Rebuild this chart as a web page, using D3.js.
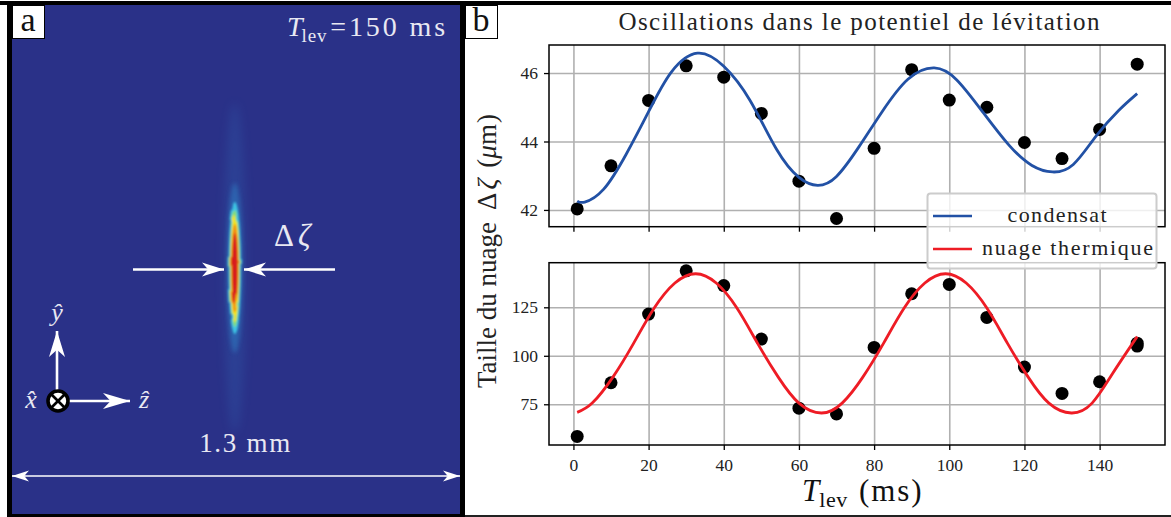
<!DOCTYPE html>
<html><head><meta charset="utf-8">
<script src="https://cdn.jsdelivr.net/npm/d3@7"></script>
<style>html,body{margin:0;padding:0;background:#fff;overflow:hidden}svg{display:block}
text{font-family:"Liberation Serif",serif}</style></head><body>
<script>
const pointTimes=[1,10,20,30,40,50,60,70,80,90,100,110,120,130,140,150];
const condensatValues=[42.03,43.29,45.2,46.21,45.88,44.82,42.84,41.75,43.8,46.1,45.21,45.0,43.97,43.5,44.35,46.26];
const thermalTimes=[1,10,20,30,40,50,60,70,80,90,100,110,120,130,140,150,150];
const thermalValues=[58.4,86.1,121.5,143.8,136.2,108.6,73,70,104.3,132,136.8,119.8,94.2,80.6,86.6,105,106.5];
const condensatFitT=[1,3,8,14,20,26,33,40,47,54,60,65,70,76,82,89,96,102,109,116,122,127.5,133,139,145,150];
const condensatFitV=[42.26,42.23,42.6,43.62,44.87,46.02,46.58,46.2,45.2,43.78,42.95,42.72,42.98,43.85,44.85,45.82,46.15,45.8,44.85,43.88,43.3,43.11,43.33,44.15,44.9,45.4];
const thermalFitT=[1,5,10.5,16,21.5,27,32.5,38,43.5,49,54.5,60,66,71.5,77,82.5,88,93.5,99,104.5,110,115.5,121,126.5,132.5,138,143.5,150];
const thermalFitV=[70.8,75.6,89,106.4,124.6,137.5,142.3,137.5,124.6,106.4,89,75.6,70.5,75.6,89,106.4,124.6,137.5,142.3,137.5,124.6,106.4,89,75.6,70.5,75.6,91,109.9];
const xTicks=[0,20,40,60,80,100,120,140];
const topTicks=[42,44,46];
const bottomTicks=[75,100,125];
const legendLabels=["condensat","nuage thermique"];

const W=1171,H=517,BLUE="#2a3188",FITB="#2251a5",FITR="#ee1c25",GRID="#b0b0b0";
const svg=d3.select("body").append("svg").attr("width",W).attr("height",H);
const defs=svg.append("defs");
[["b1",5],["b2",2]].forEach(([id,s])=>{
  defs.append("filter").attr("id",id).attr("x","-200%").attr("width","500%").attr("y","-50%").attr("height","200%")
    .append("feGaussianBlur").attr("stdDeviation",s);
});
const rough=defs.append("filter").attr("id","rough").attr("filterUnits","userSpaceOnUse").attr("x",150).attr("y",100).attr("width",170).attr("height",340);
rough.append("feTurbulence").attr("type","fractalNoise").attr("baseFrequency","0.05 0.06").attr("numOctaves",2).attr("seed",4).attr("result","n");
rough.append("feDisplacementMap").attr("in","SourceGraphic").attr("in2","n").attr("scale",4).attr("xChannelSelector","R").attr("yChannelSelector","G").attr("result","d");
rough.append("feGaussianBlur").attr("in","d").attr("stdDeviation",.9);

svg.append("rect").attr("width",W).attr("height",H).attr("fill","#fff");
svg.append("rect").attr("x",0).attr("y",1).attr("width",W).attr("height",4).attr("fill","#000");
svg.append("rect").attr("x",7).attr("y",1).attr("width",458).attr("height",516).attr("fill","#000");
svg.append("rect").attr("x",465).attr("y",515).attr("width",706).attr("height",2).attr("fill","#222");
svg.append("rect").attr("x",12).attr("y",5).attr("width",448).attr("height",509).attr("fill",BLUE);

const cx=234.8,cy=268;
svg.append("ellipse").attr("cx",cx).attr("cy",cy).attr("rx",11).attr("ry",165).attr("fill","#3166b4").attr("opacity",.28).attr("filter","url(#b1)");
svg.append("ellipse").attr("cx",cx).attr("cy",cy).attr("rx",8).attr("ry",85).attr("fill","#2f7fc4").attr("opacity",.55).attr("filter","url(#b2)");
const cloud=svg.append("g").attr("filter","url(#rough)");
[[6.2,66,"#3cc4e4"],[5.1,58,"#86dc78"],[4.3,53,"#f6e31c"],[3.6,44,"#f18a12"],[2.9,35,"#d81a1a"]].forEach(d=>{
  cloud.append("ellipse").attr("cx",cx).attr("cy",cy).attr("rx",d[0]).attr("ry",d[1]).attr("fill",d[2]);
});

function arrow(x1,y1,x2,y2,w,len,half){
  svg.append("line").attr("x1",x1).attr("y1",y1).attr("x2",x2).attr("y2",y2).attr("stroke","#fff").attr("stroke-width",w);
  const a=Math.atan2(y2-y1,x2-x1),ca=Math.cos(a),sa=Math.sin(a);
  const px=(u,v)=>[x2+u*ca-v*sa,y2+u*sa+v*ca];
  svg.append("path").attr("d",d3.line()([px(0,0),px(-len,-half),px(-len*.72,0),px(-len,half)])+"Z").attr("fill","#fff");
}
arrow(133,269.5,224,269.5,2.6,22,7);
arrow(335,269.5,244,269.5,2.6,22,7);
arrow(57,390,57,331,2.6,26,8);
arrow(68,401,130,401,2.6,27,8);
arrow(26,476,12,476,1.6,17,5.5);
arrow(446,476,460,476,1.6,17,5.5);
svg.append("line").attr("x1",26).attr("x2",446).attr("y1",476).attr("y2",476).attr("stroke","#fff").attr("stroke-width",1.6);
svg.append("circle").attr("cx",58).attr("cy",401).attr("r",10).attr("fill","#fff").attr("stroke","#000").attr("stroke-width",3.6);
[[-1,-1],[-1,1]].forEach(([a,b])=>svg.append("line").attr("x1",58+a*7).attr("y1",401+b*7).attr("x2",58-a*7).attr("y2",401-b*7).attr("stroke","#000").attr("stroke-width",2.6));

function txt(x,y,size,fill,anchor){
  return svg.append("text").attr("x",x).attr("y",y).attr("font-size",size).attr("fill",fill).attr("text-anchor",anchor||"start");
}
const W2="#e8e8f2";
let t=txt(287,36,28,W2);
t.append("tspan").attr("font-style","italic").text("T");
t.append("tspan").attr("font-size",19).attr("dy",6).attr("dx",-1).attr("letter-spacing",.8).text("lev");
t.append("tspan").attr("dy",-6).attr("dx",3).attr("letter-spacing",2.9).text("=150 ms");
txt(245.5,452,27,W2,"middle").attr("letter-spacing",1.7).text("1.3 mm");
let dz=txt(274,246,31,W2);
dz.append("tspan").text("Δ");
dz.append("tspan").attr("dx",4).attr("font-style","italic").text("ζ");
txt(57,321,26,W2,"middle").attr("font-style","italic").text("ŷ");
txt(31,408,26,W2,"middle").attr("font-style","italic").text("x̂");
txt(144,408,26,W2,"middle").attr("font-style","italic").text("ẑ");

[["a",12,28],["b",465,481]].forEach(([s,x,c])=>{
  svg.append("rect").attr("x",x+.5).attr("y",5.5).attr("width",32).attr("height",33).attr("fill","#fff").attr("stroke","#000").attr("stroke-width",1);
  txt(c,31,34,"#111","middle").text(s);
});

const L=549,R=1165;
const x=d3.scaleLinear().domain([-6.5,157.4]).range([L,R]);
function panel(top,bottom,domain,ticks,ptsT,ptsV,fitT,fitV,color,showX){
  const y=d3.scaleLinear().domain(domain).range([bottom,top]);
  const g=svg.append("g");
  g.append("g").attr("transform",`translate(0,${bottom})`).call(d3.axisBottom(x).tickValues(xTicks).tickSize(top-bottom).tickFormat(""))
    .call(a=>{a.select(".domain").remove();a.selectAll("line").attr("stroke",GRID).attr("stroke-width",1.6)});
  g.append("g").attr("transform",`translate(${L},0)`).call(d3.axisLeft(y).tickValues(ticks).tickSize(L-R).tickFormat(""))
    .call(a=>{a.select(".domain").remove();a.selectAll("line").attr("stroke",GRID).attr("stroke-width",1.6)});
  g.selectAll("circle").data(ptsT).join("circle").attr("cx",d=>x(d)).attr("cy",(d,i)=>y(ptsV[i])).attr("r",6.5).attr("fill","#000");
  g.append("path").datum(fitT).attr("fill","none").attr("stroke",color).attr("stroke-width",2.8)
    .attr("d",d3.line().x(d=>x(d)).y((d,i)=>y(fitV[i])).curve(d3.curveNatural));
  g.append("rect").attr("x",L).attr("y",top).attr("width",R-L).attr("height",bottom-top).attr("fill","none").attr("stroke","#000").attr("stroke-width",1.5);
  const ax=g.append("g").attr("transform",`translate(0,${bottom})`).call(d3.axisBottom(x).tickValues(xTicks).tickSize(5).tickPadding(9).tickFormat(showX?d3.format("d"):""));
  const ay=g.append("g").attr("transform",`translate(${L},0)`).call(d3.axisLeft(y).tickValues(ticks).tickSize(5).tickPadding(6).tickFormat(d3.format("d")));
  [ax,ay].forEach(a=>{a.select(".domain").remove();a.selectAll("line").attr("stroke","#000").attr("stroke-width",1.3);
    a.selectAll("text").attr("font-size",17.5).attr("font-family","Liberation Serif").attr("fill","#222")});
}
panel(45,226.7,[41.51,46.82],topTicks,pointTimes,condensatValues,condensatFitT,condensatFitV,FITB,false);
panel(262.7,445,[54,148],bottomTicks,thermalTimes,thermalValues,thermalFitT,thermalFitV,FITR,true);

svg.append("rect").attr("x",927.5).attr("y",193.5).attr("width",229).attr("height",75).attr("rx",3)
  .attr("fill","#fff").attr("fill-opacity",.8).attr("stroke","#ccc").attr("stroke-width",2);
legendLabels.forEach((s,i)=>{
  const yy=[216,249][i];
  svg.append("line").attr("x1",933).attr("x2",972).attr("y1",yy).attr("y2",yy).attr("stroke",i?FITR:FITB).attr("stroke-width",2.6);
  txt(i?982:1007.5,yy+6,22,"#222").attr("textLength",i?171:99).attr("lengthAdjust","spacing").text(s);
});

txt(859,30,25,"#222","middle").attr("textLength",481).attr("lengthAdjust","spacing").text("Oscillations dans le potentiel de lévitation");
const yl=svg.append("text").attr("transform","translate(496,388) rotate(-90)").attr("font-size",27).attr("fill","#222");
yl.append("tspan").text("Taille du nuage");
yl.append("tspan").attr("dx",12).text("Δ");
yl.append("tspan").attr("dx",3).attr("font-style","italic").text("ζ");
yl.append("tspan").attr("dx",11).text("(");
yl.append("tspan").attr("font-style","italic").text("μ");
yl.append("tspan").attr("letter-spacing",1).text("m)");
let xl=txt(802,501,31,"#111");
xl.append("tspan").attr("font-style","italic").text("T");
xl.append("tspan").attr("font-size",22).attr("dy",6).attr("letter-spacing",.6).text("lev");
xl.append("tspan").attr("dy",-6).attr("dx",11).attr("letter-spacing",1.9).text("(ms)");
</script></body></html>
